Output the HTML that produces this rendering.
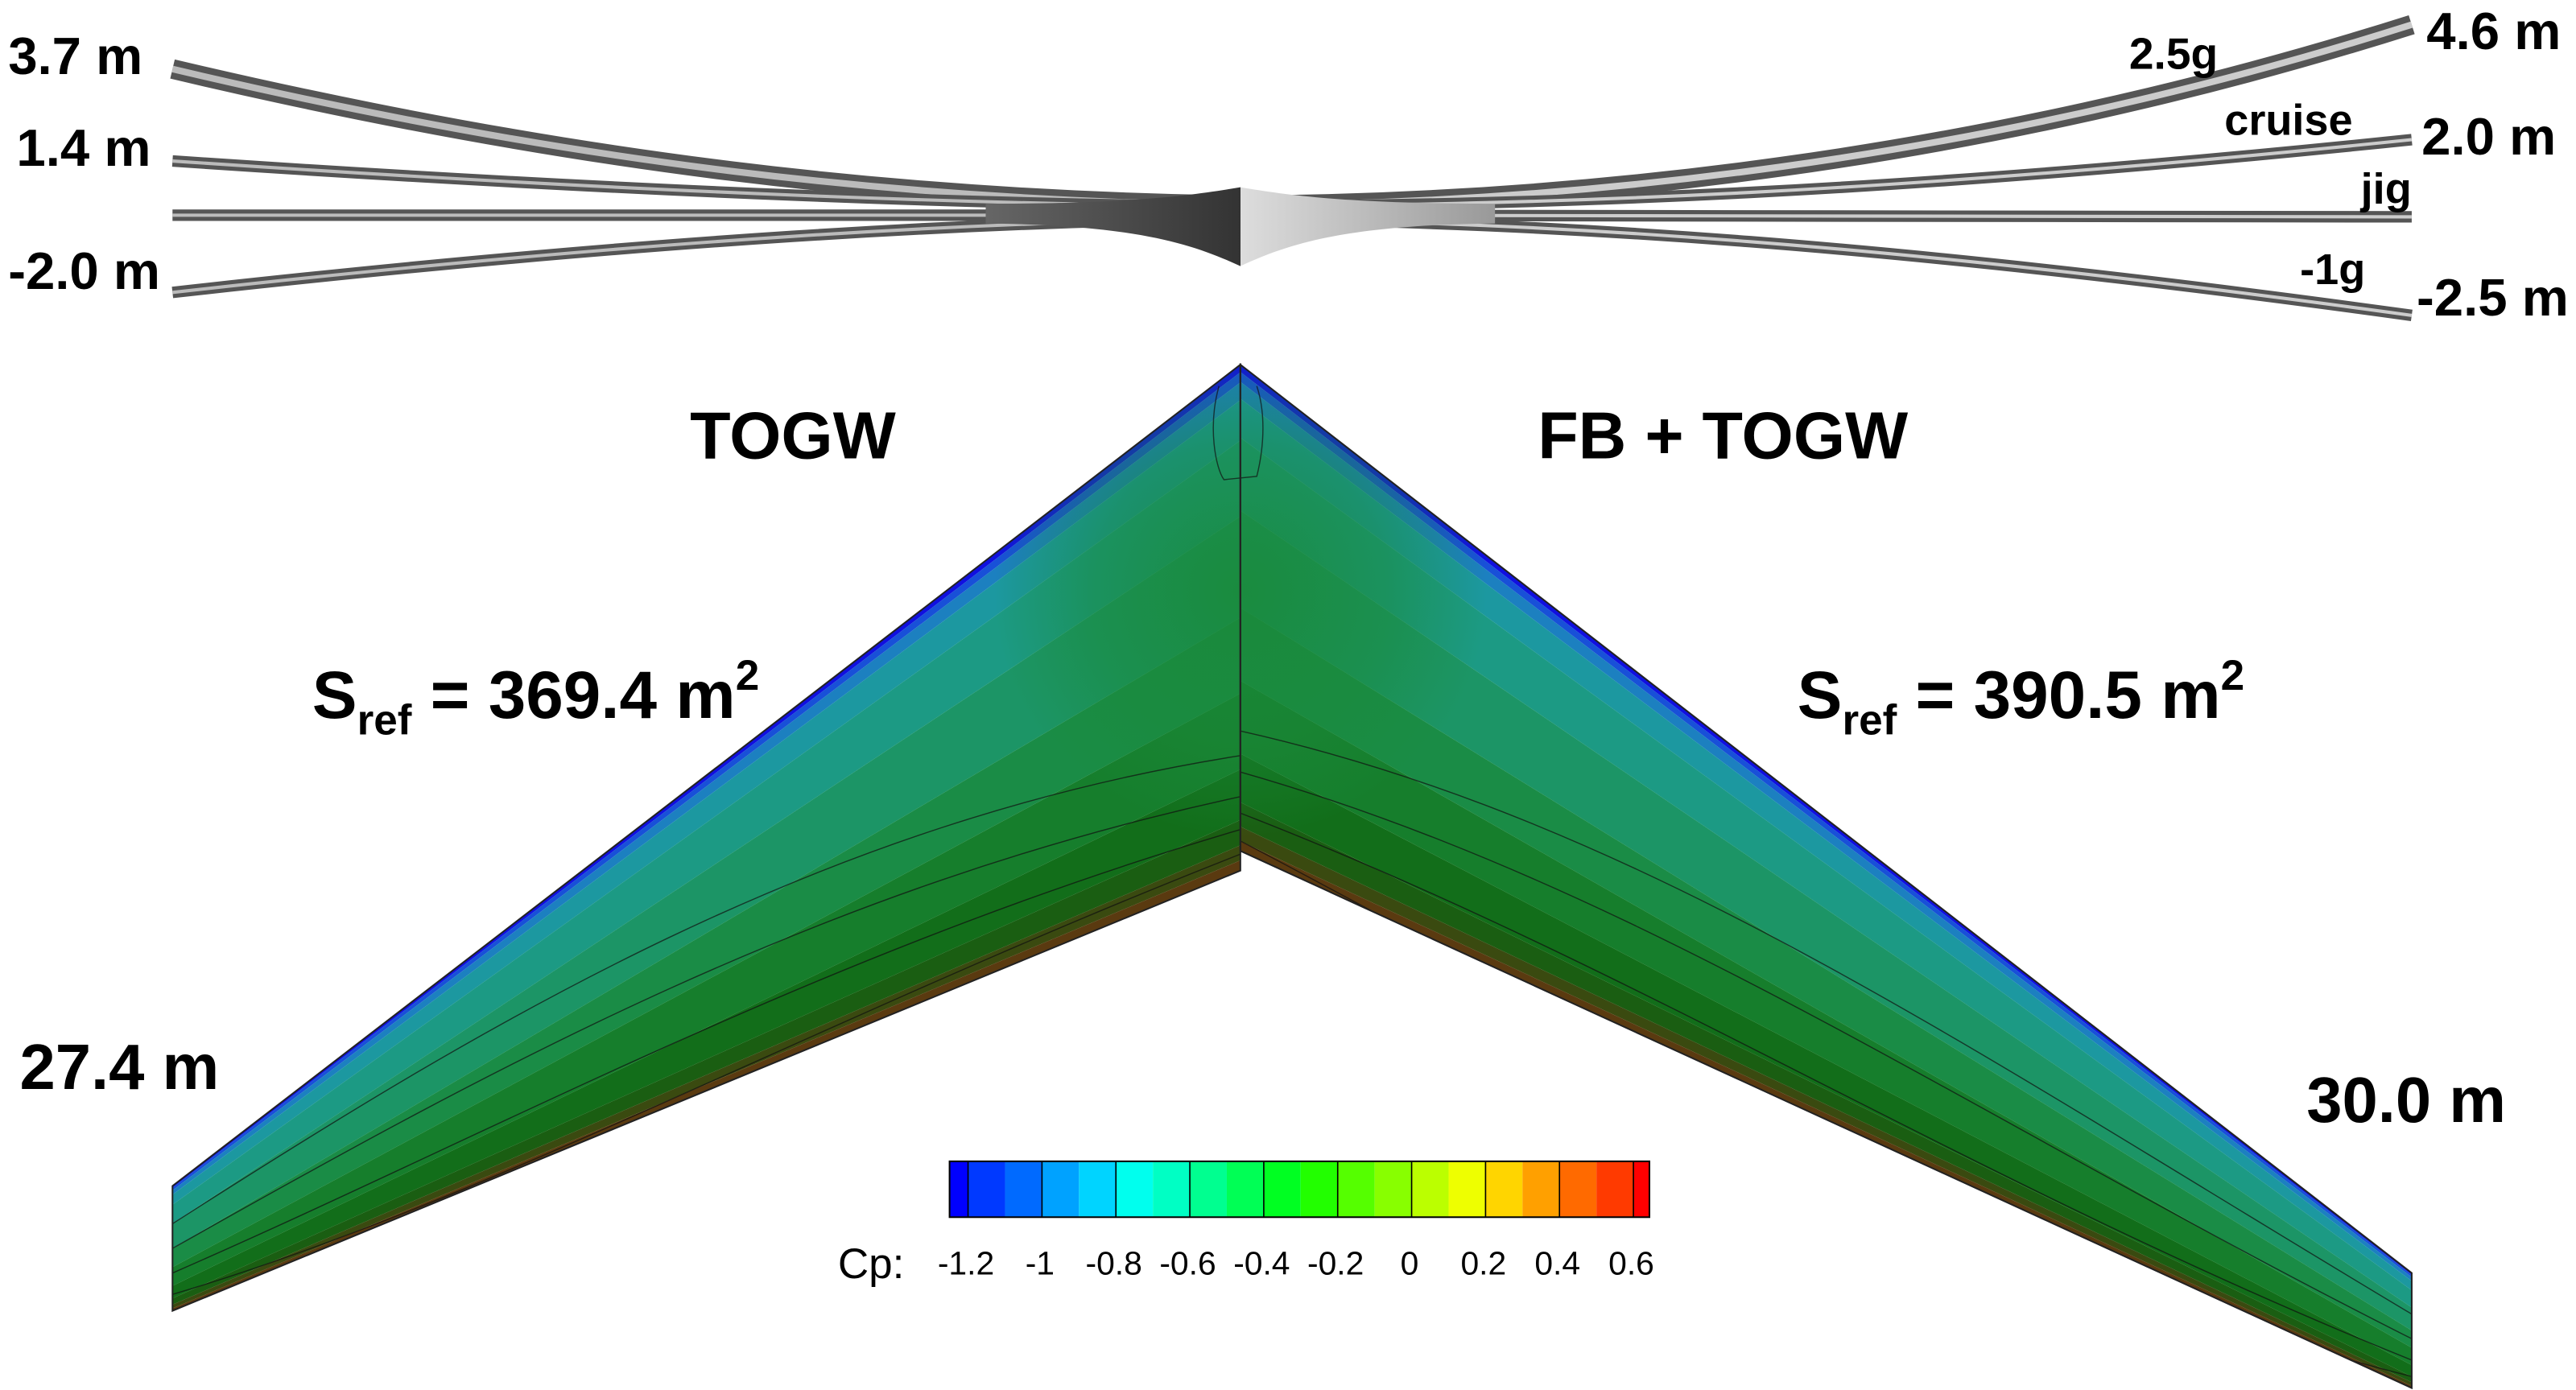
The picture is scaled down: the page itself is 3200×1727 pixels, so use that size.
<!DOCTYPE html>
<html><head><meta charset="utf-8"><style>html,body{margin:0;padding:0;background:#fff}svg{display:block}</style></head>
<body>
<svg width="3200" height="1727" viewBox="0 0 1568 846.2" xmlns="http://www.w3.org/2000/svg" font-family="Liberation Sans, sans-serif">
<defs>
<linearGradient id="fus" x1="0" y1="0" x2="1" y2="0">
<stop offset="0" stop-color="#666"/><stop offset="0.5" stop-color="#333"/><stop offset="0.5" stop-color="#ddd"/><stop offset="1" stop-color="#999"/></linearGradient>
<radialGradient id="cg" cx="0.5" cy="0.5" r="0.5">
<stop offset="0" stop-color="#1a8a3a" stop-opacity="0.9"/><stop offset="0.6" stop-color="#1a8a3a" stop-opacity="0.5"/><stop offset="1" stop-color="#1a8a3a" stop-opacity="0"/></radialGradient>
<clipPath id="wc"><path d="M755,222 L105,722 L105,798 L755,530 Z M755,222 L1468,775 L1468,845 L755,518 Z"/></clipPath>
</defs>

<g fill="none">
<path d="M105,42 C350,100 550,122 755,125" stroke="#555" stroke-width="12"/>
<path d="M105,42 C350,100 550,122 755,125" stroke="#bbb" stroke-width="4"/>
<path d="M105,98 C400,118 600,124 755,126" stroke="#555" stroke-width="7"/>
<path d="M105,98 C400,118 600,124 755,126" stroke="#bbb" stroke-width="2"/>
<path d="M105,131 L755,131" stroke="#555" stroke-width="7"/>
<path d="M105,131 L755,131" stroke="#bbb" stroke-width="2"/>
<path d="M105,178 C400,145 600,135 755,133" stroke="#555" stroke-width="7"/>
<path d="M105,178 C400,145 600,135 755,133" stroke="#bbb" stroke-width="2"/>
<path d="M1468,15 C1200,100 950,124 755,125" stroke="#555" stroke-width="12"/>
<path d="M1468,15 C1200,100 950,124 755,125" stroke="#ccc" stroke-width="4"/>
<path d="M1468,85 C1150,118 950,124 755,126" stroke="#555" stroke-width="7"/>
<path d="M1468,85 C1150,118 950,124 755,126" stroke="#ccc" stroke-width="2"/>
<path d="M1468,132 L755,131" stroke="#555" stroke-width="7"/>
<path d="M1468,132 L755,131" stroke="#ccc" stroke-width="2"/>
<path d="M1468,192 C1150,148 950,136 755,133" stroke="#555" stroke-width="7"/>
<path d="M1468,192 C1150,148 950,136 755,133" stroke="#ccc" stroke-width="2"/>
</g>
<path d="M600,124 C690,124 725,119 755,114 C785,119 820,124 910,124 L910,136 C820,137 785,148 755,162 C725,148 690,137 600,136 Z" fill="url(#fus)"/>

<g stroke="none">
<path d="M755,222 L105,722 L105,723.1 L755,226.6Z" fill="#1010e0"/>
<path d="M755,226.6 L105,723.1 L105,724.7 L755,232.8Z" fill="#1850d8"/>
<path d="M755,232.8 L105,724.7 L105,727.3 L755,243.6Z" fill="#1c80c0"/>
<path d="M755,243.6 L105,727.3 L105,733.4 L755,268.2Z" fill="#1c98a0"/>
<path d="M755,268.2 L105,733.4 L105,744.8 L755,314.4Z" fill="#1c9a84"/>
<path d="M755,314.4 L105,744.8 L105,760 L755,376Z" fill="#1c9566"/>
<path d="M755,376 L105,760 L105,771.4 L755,422.2Z" fill="#1a8c46"/>
<path d="M755,422.2 L105,771.4 L105,782.8 L755,468.4Z" fill="#167e2c"/>
<path d="M755,468.4 L105,782.8 L105,790.4 L755,499.2Z" fill="#126e1a"/>
<path d="M755,499.2 L105,790.4 L105,794.2 L755,514.6Z" fill="#1a5e12"/>
<path d="M755,514.6 L105,794.2 L105,796.5 L755,523.8Z" fill="#3a4a10"/>
<path d="M755,523.8 L105,796.5 L105,798 L755,530Z" fill="#5a3a10"/>
<path d="M755,222 L1468,775 L1468,776.1 L755,226.4Z" fill="#1010e0"/>
<path d="M755,226.4 L1468,776.1 L1468,777.5 L755,232.4Z" fill="#1850d8"/>
<path d="M755,232.4 L1468,777.5 L1468,779.9 L755,242.7Z" fill="#1c80c0"/>
<path d="M755,242.7 L1468,779.9 L1468,785.5 L755,266.4Z" fill="#1c98a0"/>
<path d="M755,266.4 L1468,785.5 L1468,796 L755,310.8Z" fill="#1c9a84"/>
<path d="M755,310.8 L1468,796 L1468,810 L755,370Z" fill="#1c9566"/>
<path d="M755,370 L1468,810 L1468,820.5 L755,414.4Z" fill="#1a8c46"/>
<path d="M755,414.4 L1468,820.5 L1468,831 L755,458.8Z" fill="#167e2c"/>
<path d="M755,458.8 L1468,831 L1468,838 L755,488.4Z" fill="#126e1a"/>
<path d="M755,488.4 L1468,838 L1468,841.5 L755,503.2Z" fill="#1a5e12"/>
<path d="M755,503.2 L1468,841.5 L1468,843.6 L755,512.1Z" fill="#3a4a10"/>
<path d="M755,512.1 L1468,843.6 L1468,845 L755,518Z" fill="#5a3a10"/>
</g>
<g clip-path="url(#wc)">
<ellipse cx="755" cy="360" rx="150" ry="150" fill="url(#cg)"/>
<g fill="none" stroke="#111" stroke-width="0.7" opacity="0.7">
<path d="M105,745 C300,620 500,500 755,460"/>
<path d="M105,760 C300,650 500,540 755,485"/>
<path d="M105,775 C300,690 500,580 755,505"/>
<path d="M105,788 C300,730 500,620 755,520"/>
<path d="M1468,800 C1200,640 1000,500 755,445"/>
<path d="M1468,815 C1200,680 1000,540 755,470"/>
<path d="M1468,828 C1200,720 1000,590 755,495"/>
<path d="M1468,838 C1200,770 1000,640 755,512"/>
<path d="M742,235 C735,260 740,285 745,292 L765,290 C770,270 770,250 765,235"/>
</g>
</g>
<path d="M755,222 L105,722 L105,798 L755,530 Z" fill="none" stroke="#222" stroke-width="1"/>
<path d="M755,222 L1468,775 L1468,845 L755,518 Z" fill="none" stroke="#222" stroke-width="1"/>

<g font-weight="bold" fill="#000">
<text x="5" y="45" font-size="32">3.7 m</text>
<text x="10" y="101" font-size="32">1.4 m</text>
<text x="5" y="176" font-size="32">-2.0 m</text>
<text x="1477" y="30" font-size="32">4.6 m</text>
<text x="1474" y="94" font-size="32">2.0 m</text>
<text x="1471" y="192" font-size="32">-2.5 m</text>
<text x="1296" y="42" font-size="27">2.5g</text>
<text x="1354" y="82" font-size="26.5">cruise</text>
<text x="1437" y="124" font-size="26.5">jig</text>
<text x="1400" y="173" font-size="26.5">-1g</text>
<text x="420" y="279" font-size="40.5">TOGW</text>
<text x="936" y="279" font-size="40.5">FB + TOGW</text>
<text x="190" y="437" font-size="41">S<tspan font-size="26" dy="10">ref</tspan><tspan dy="-10"> = 369.4 m</tspan><tspan font-size="26" dy="-17">2</tspan></text>
<text x="1094" y="437" font-size="41">S<tspan font-size="26" dy="10">ref</tspan><tspan dy="-10"> = 390.5 m</tspan><tspan font-size="26" dy="-17">2</tspan></text>
<text x="12" y="663" font-size="39">27.4 m</text>
<text x="1404" y="683" font-size="39">30.0 m</text>
</g>

<g stroke="none">
<rect x="578" y="707" width="11.25" height="34" fill="#0000ff"/>
<rect x="589.25" y="707" width="22.5" height="34" fill="#0039ff"/>
<rect x="611.75" y="707" width="22.5" height="34" fill="#006aff"/>
<rect x="634.25" y="707" width="22.5" height="34" fill="#00a2ff"/>
<rect x="656.75" y="707" width="22.5" height="34" fill="#00d4ff"/>
<rect x="679.25" y="707" width="22.5" height="34" fill="#00ffee"/>
<rect x="701.75" y="707" width="22.5" height="34" fill="#00ffc4"/>
<rect x="724.25" y="707" width="22.5" height="34" fill="#00ff90"/>
<rect x="746.75" y="707" width="22.5" height="34" fill="#00ff55"/>
<rect x="769.25" y="707" width="22.5" height="34" fill="#00ff22"/>
<rect x="791.75" y="707" width="22.5" height="34" fill="#22ff00"/>
<rect x="814.25" y="707" width="22.5" height="34" fill="#55ff00"/>
<rect x="836.75" y="707" width="22.5" height="34" fill="#88ff00"/>
<rect x="859.25" y="707" width="22.5" height="34" fill="#bbff00"/>
<rect x="881.75" y="707" width="22.5" height="34" fill="#eeff00"/>
<rect x="904.25" y="707" width="22.5" height="34" fill="#ffd500"/>
<rect x="926.75" y="707" width="22.5" height="34" fill="#ffa000"/>
<rect x="949.25" y="707" width="22.5" height="34" fill="#ff6a00"/>
<rect x="971.75" y="707" width="22.5" height="34" fill="#ff3a00"/>
<rect x="994.25" y="707" width="9.75" height="34" fill="#ff0000"/>
</g>
<g stroke="#000" stroke-width="0.8">
<line x1="589.25" y1="707" x2="589.25" y2="741"/><line x1="634.25" y1="707" x2="634.25" y2="741"/>
<line x1="679.25" y1="707" x2="679.25" y2="741"/><line x1="724.25" y1="707" x2="724.25" y2="741"/>
<line x1="769.25" y1="707" x2="769.25" y2="741"/><line x1="814.25" y1="707" x2="814.25" y2="741"/>
<line x1="859.25" y1="707" x2="859.25" y2="741"/><line x1="904.25" y1="707" x2="904.25" y2="741"/>
<line x1="949.25" y1="707" x2="949.25" y2="741"/><line x1="994.25" y1="707" x2="994.25" y2="741"/>
</g>
<rect x="578" y="707" width="426" height="34" fill="none" stroke="#000" stroke-width="1"/>
<g font-size="20" fill="#000" text-anchor="middle">
<text x="510" y="778" font-size="26" text-anchor="start">Cp:</text>
<text x="588" y="776">-1.2</text><text x="633" y="776">-1</text><text x="678" y="776">-0.8</text>
<text x="723" y="776">-0.6</text><text x="768" y="776">-0.4</text><text x="813" y="776">-0.2</text>
<text x="858" y="776">0</text><text x="903" y="776">0.2</text><text x="948" y="776">0.4</text><text x="993" y="776">0.6</text>
</g>
</svg>
</body></html>
